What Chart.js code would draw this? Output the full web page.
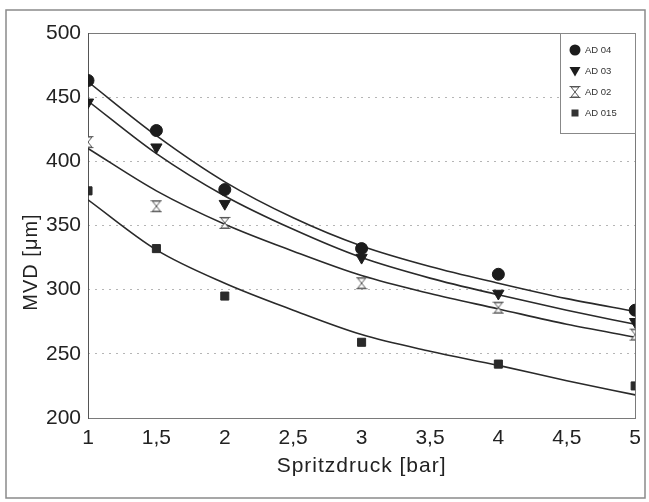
<!DOCTYPE html>
<html>
<head>
<meta charset="utf-8">
<script src="https://cdn.jsdelivr.net/npm/chart.js@4/dist/chart.umd.min.js"></script>
<style>
  html, body { margin: 0; padding: 0; background: #fff; }
  canvas { display: block; }
</style>
</head>
<body>
<canvas id="c" width="649" height="502"></canvas>
<script>
// ---- data ----
const xValues = [1, 1.5, 2, 3, 4, 5];
const ad04  = [463, 424, 378, 332, 312, 284];
const ad03  = [446, 411, 367, 325, 297, 275];
const ad02  = [415, 365, 352, 305, 286, 265];
const ad015 = [377, 332, 295, 259, 242, 225];

// fitted curves
const fitX   = [1, 1.5, 2, 2.5, 3, 3.5, 4, 4.5, 5];
const fit04  = [462, 420, 384, 356, 334, 318, 305, 293, 283];
const fit03  = [447, 406, 373, 347, 325, 309, 296, 284, 273];
const fit02  = [410, 377, 351, 330, 311, 297, 285, 273, 263];
const fit015 = [370, 331, 305, 284, 265, 252, 241, 229, 218];

const seriesNames = ['AD 04', 'AD 03', 'AD 02', 'AD 015'];
const xTickLabels = ['1', '1,5', '2', '2,5', '3', '3,5', '4', '4,5', '5'];
const yTickLabels = ['200', '250', '300', '350', '400', '450', '500'];
const xTitle = 'Spritzdruck [bar]';
const yTitle = 'MVD [\u03BCm]';

// ---- hourglass marker ----
function makeHourglass(color) {
  const c = document.createElement('canvas');
  c.width = 12; c.height = 14;
  const g = c.getContext('2d');
  g.strokeStyle = color; g.fillStyle = '#fff'; g.lineWidth = 1;
  g.beginPath();
  g.moveTo(2, 2); g.lineTo(10, 2); g.lineTo(6, 7); g.closePath();
  g.moveTo(6, 7); g.lineTo(2, 12); g.lineTo(10, 12); g.closePath();
  g.fill(); g.stroke();
  g.beginPath();
  g.moveTo(0.5, 1.5); g.lineTo(11.5, 1.5);
  g.moveTo(0.5, 12.5); g.lineTo(11.5, 12.5);
  g.stroke();
  return c;
}
const hourglass = makeHourglass('#555');

const pts = (xs, ys) => xs.map((x, i) => ({ x: x, y: ys[i] }));
const FONT = '"Liberation Sans", Arial, Helvetica, sans-serif';
Chart.defaults.font.family = FONT;
Chart.defaults.color = '#222';

function fitDs(data) {
  return {
    type: 'line', data: pts(fitX, data), showLine: true, pointRadius: 0,
    borderColor: '#2a2a2a', borderWidth: 1.6, cubicInterpolationMode: 'monotone',
    fill: false, order: 2
  };
}
function ptDs(label, data, style, radius, extra) {
  return Object.assign({
    label: label, type: 'scatter', data: pts(xValues, data), showLine: false,
    pointStyle: style, pointRadius: radius, pointHoverRadius: radius,
    backgroundColor: '#1c1c1c', borderColor: '#1c1c1c', pointBorderWidth: 1, order: 1
  }, extra || {});
}

const framePlugin = {
  id: 'frame',
  beforeDraw(chart) {
    const ctx = chart.ctx;
    ctx.save();
    ctx.fillStyle = '#fff';
    ctx.fillRect(0, 0, chart.width, chart.height);
    ctx.strokeStyle = '#8a8a8a'; ctx.lineWidth = 1.5;
    ctx.strokeRect(6, 10, 639, 488);
    ctx.restore();
  },
  beforeDatasetsDraw(chart) {
    const ctx = chart.ctx, a = chart.chartArea;
    ctx.save();
    ctx.strokeStyle = '#7a7a7a'; ctx.lineWidth = 1;
    ctx.strokeRect(Math.round(a.left) + 0.5, Math.round(a.top) + 0.5,
                   Math.round(a.right - a.left), Math.round(a.bottom - a.top));
    ctx.strokeStyle = '#555';
    ctx.beginPath();
    ctx.moveTo(Math.round(a.left) + 0.5, a.top); ctx.lineTo(Math.round(a.left) + 0.5, a.bottom + 1);
    ctx.stroke();
    // axis titles
    ctx.fillStyle = '#222';
    ctx.font = '21px ' + FONT;
    ctx.letterSpacing = '1px';
    ctx.textAlign = 'center'; ctx.textBaseline = 'middle';
    ctx.fillText(xTitle, (a.left + a.right) / 2, 466);
    ctx.font = '20px ' + FONT;
    ctx.translate(31, 262);
    ctx.rotate(-Math.PI / 2);
    ctx.fillText(yTitle, 0, 0);
    ctx.restore();
  },
  afterDraw(chart) {
    const ctx = chart.ctx, a = chart.chartArea;
    const bx = Math.round(a.right) - 75, by = Math.round(a.top);
    ctx.save();
    ctx.letterSpacing = '0px';
    ctx.fillStyle = '#fff';
    ctx.fillRect(bx + 0.5, by + 0.5, 75, 100);
    ctx.strokeStyle = '#888'; ctx.lineWidth = 1;
    ctx.strokeRect(bx + 0.5, by + 0.5, 75, 100);
    const mx = bx + 15, tx = bx + 25;
    const ys = [by + 17, by + 38, by + 59, by + 80];
    ctx.fillStyle = '#1c1c1c';
    ctx.beginPath(); ctx.arc(mx, ys[0], 5.5, 0, Math.PI * 2); ctx.fill();
    ctx.beginPath();
    ctx.moveTo(mx - 5.5, ys[1] - 4); ctx.lineTo(mx + 5.5, ys[1] - 4); ctx.lineTo(mx, ys[1] + 5.5);
    ctx.closePath(); ctx.fill();
    ctx.drawImage(hourglass, mx - 6, ys[2] - 7);
    ctx.fillStyle = '#333';
    ctx.fillRect(mx - 3.5, ys[3] - 3.5, 7, 7);
    ctx.font = '9.5px ' + FONT;
    ctx.textAlign = 'left'; ctx.textBaseline = 'middle';
    seriesNames.forEach((n, i) => ctx.fillText(n, tx, ys[i] + 0.5));
    ctx.restore();
  }
};

new Chart(document.getElementById('c'), {
  type: 'scatter',
  data: {
    datasets: [
      fitDs(fit04), fitDs(fit03), fitDs(fit02), fitDs(fit015),
      ptDs(seriesNames[0], ad04, 'circle', 6),
      ptDs(seriesNames[1], ad03, 'triangle', 6.5, { rotation: 180 }),
      ptDs(seriesNames[2], ad02, hourglass, 6),
      ptDs(seriesNames[3], ad015, 'rect', 5.7, { backgroundColor: '#2a2a2a', borderColor: '#2a2a2a' })
    ]
  },
  options: {
    responsive: false,
    animation: false,
    layout: { padding: { left: 0, top: 33, right: 12, bottom: 0 } },
    plugins: { legend: { display: false }, tooltip: { enabled: false } },
    scales: {
      x: {
        type: 'linear', min: 1, max: 5,
        afterFit(s) { s.height = 84; },
        afterBuildTicks(s) { s.ticks = xTickLabels.map((_, i) => ({ value: 1 + i * 0.5 })); },
        ticks: {
          padding: 8, maxRotation: 0, autoSkip: false,
          font: { size: 21 }, color: '#222',
          callback: (v, i) => xTickLabels[i]
        },
        grid: { display: false, drawTicks: false },
        border: { display: false }
      },
      y: {
        type: 'linear', min: 200, max: 500,
        afterFit(s) { s.width = 88; },
        afterBuildTicks(s) { s.ticks = yTickLabels.map(t => ({ value: Number(t) })); },
        ticks: {
          padding: 7, font: { size: 21 }, color: '#222',
          callback: (v, i) => yTickLabels[i]
        },
        grid: {
          drawTicks: false, lineWidth: 1,
          color: (c) => (c.tick && (c.tick.value === 200 || c.tick.value === 500)) ? 'rgba(0,0,0,0)' : '#b5b5b5'
        },
        border: { display: false, dash: [2, 5] }
      }
    }
  },
  plugins: [framePlugin]
});
</script>
</body>
</html>
